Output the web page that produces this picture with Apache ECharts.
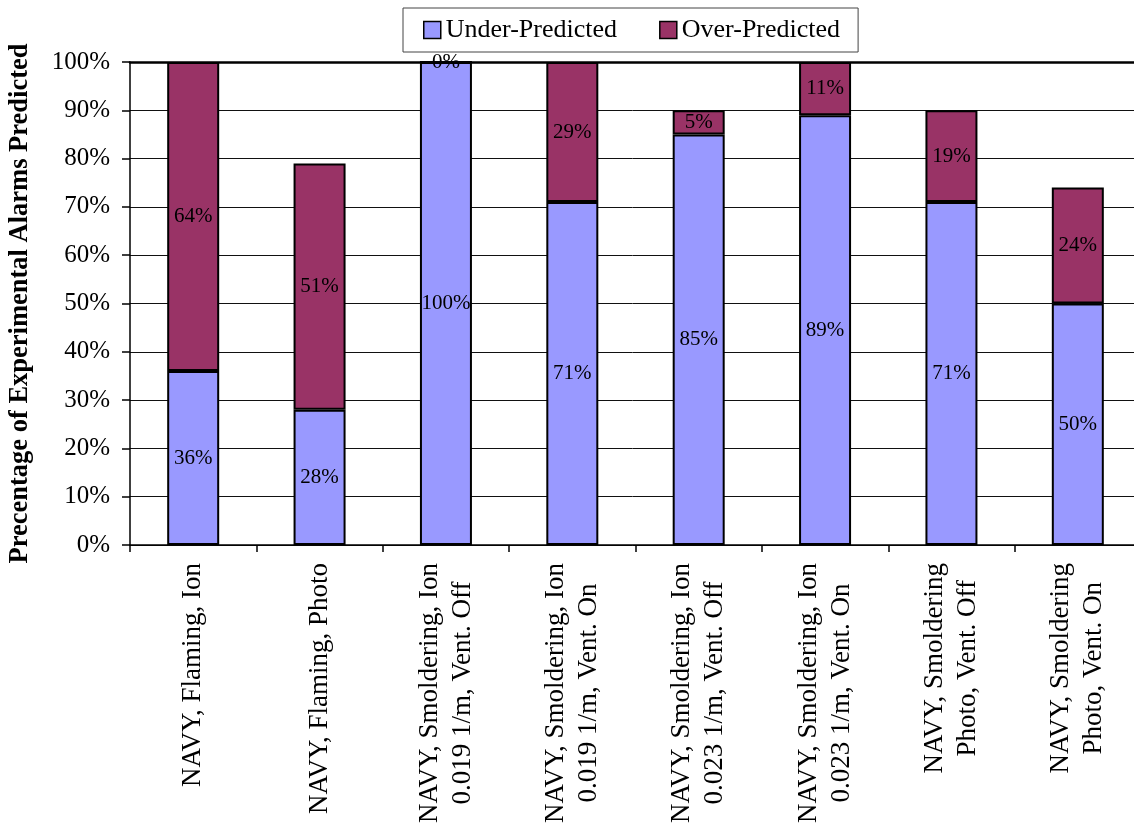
<!DOCTYPE html>
<html>
<head>
<meta charset="utf-8">
<title>Alarm prediction</title>
<script src="https://cdn.jsdelivr.net/npm/echarts@6/dist/echarts.min.js"></script>
<style>
  html, body { margin: 0; padding: 0; background: #fff; }
  #chart { width: 1134px; height: 827px; }
</style>
</head>
<body>
<div id="chart"></div>
<script>
// Test scenarios (two-line names are split with \n)
const categories = [
  'NAVY, Flaming, Ion',
  'NAVY, Flaming, Photo',
  'NAVY, Smoldering, Ion\n0.019 1/m, Vent. Off',
  'NAVY, Smoldering, Ion\n0.019 1/m, Vent. On',
  'NAVY, Smoldering, Ion\n0.023 1/m, Vent. Off',
  'NAVY, Smoldering, Ion\n0.023 1/m, Vent. On',
  'NAVY, Smoldering\nPhoto, Vent. Off',
  'NAVY, Smoldering\nPhoto, Vent. On'
];
// Percent of experimental alarms
const underPredicted = [36, 28, 100, 71, 85, 89, 71, 50];
const overPredicted = [64, 51, 0, 29, 5, 11, 19, 24];
const yTicks = [0, 10, 20, 30, 40, 50, 60, 70, 80, 90, 100];

const FONT = "'Liberation Serif', 'Times New Roman', serif";

const chart = echarts.init(document.getElementById('chart'), null, { renderer: 'canvas' });

const barLabel = {
  show: true,
  position: 'inside',
  color: '#000',
  fontFamily: FONT,
  fontSize: 21,
  formatter: p => p.value + '%'
};

chart.setOption({
  backgroundColor: '#fff',
  animation: false,
  textStyle: { fontFamily: FONT },
  legend: {
    left: 403,
    top: 8,
    padding: [8, 18, 8, 20],
    itemGap: 42,
    itemWidth: 17,
    itemHeight: 17,
    icon: 'rect',
    borderColor: '#444',
    borderWidth: 1,
    itemStyle: { borderColor: '#000', borderWidth: 1.5 },
    textStyle: { fontFamily: FONT, fontSize: 26, color: '#000', lineHeight: 28 },
    data: ['Under-Predicted', 'Over-Predicted']
  },
  grid: {
    left: 130,
    width: 1011,
    top: 62,
    bottom: 282,
    containLabel: false,
    outerBoundsMode: 'none'
  },
  xAxis: [
    {
      type: 'category',
      data: categories,
      boundaryGap: true,
      axisLine: { show: true, lineStyle: { color: '#000', width: 1.5 } },
      axisTick: { show: true, alignWithLabel: false, length: 7, lineStyle: { color: '#000', width: 1.5 } },
      axisLabel: {
        interval: 0,
        rotate: 90,
        margin: 18,
        color: '#000',
        fontFamily: FONT,
        fontSize: 27,
        formatter: v => v.split('\n').map(s => '{c|' + s + '}').join('\n'),
        rich: {
          c: { align: 'center', fontFamily: FONT, fontSize: 27, lineHeight: 33, color: '#000' }
        }
      },
      splitLine: { show: false }
    },
    {
      // heavy rule along the 100% line
      type: 'category',
      position: 'top',
      data: categories,
      axisLine: { show: true, lineStyle: { color: '#000', width: 2.5 } },
      axisTick: { show: false },
      axisLabel: { show: false },
      splitLine: { show: false }
    }
  ],
  yAxis: {
    type: 'value',
    min: yTicks[0],
    max: yTicks[yTicks.length - 1],
    interval: 10,
    name: 'Precentage of Experimental Alarms Predicted',
    nameLocation: 'middle',
    nameRotate: 90,
    nameGap: 96,
    nameTextStyle: { fontFamily: FONT, fontSize: 26.5, fontWeight: 'bold', color: '#000' },
    axisLine: { show: true, lineStyle: { color: '#000', width: 1.5 } },
    axisTick: { show: true, length: 8, lineStyle: { color: '#000', width: 1.5 } },
    axisLabel: {
      margin: 20,
      color: '#000',
      fontFamily: FONT,
      fontSize: 25,
      formatter: '{value}%'
    },
    splitLine: { show: true, lineStyle: { color: '#111', width: 1 } }
  },
  series: [
    {
      name: 'Under-Predicted',
      type: 'bar',
      stack: 'total',
      xAxisIndex: 0,
      barWidth: 52,
      data: underPredicted,
      itemStyle: { color: '#9999FF', borderColor: '#000', borderWidth: 2 },
      label: barLabel
    },
    {
      name: 'Over-Predicted',
      type: 'bar',
      stack: 'total',
      xAxisIndex: 0,
      barWidth: 52,
      data: overPredicted,
      itemStyle: { color: '#993366', borderColor: '#000', borderWidth: 2 },
      label: barLabel
    }
  ]
});
</script>
</body>
</html>
